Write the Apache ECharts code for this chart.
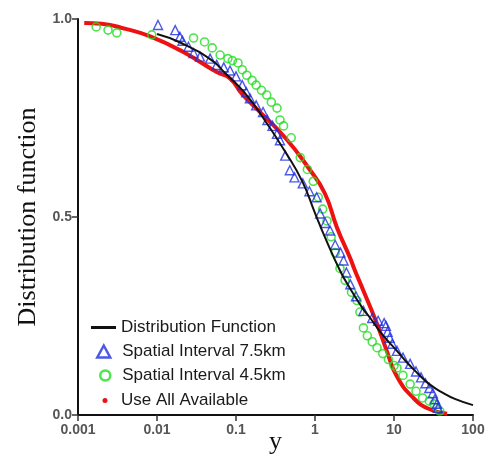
<!DOCTYPE html>
<html>
<head>
<meta charset="utf-8">
<script src="https://cdn.jsdelivr.net/npm/echarts@6/dist/echarts.min.js"></script>
<style>
  html, body { margin: 0; padding: 0; background: #fff; }
  #chart { width: 489px; height: 457px; }
</style>
</head>
<body>
<div id="chart"></div>
<script>
// tick labels
const xTicks = [0.001, 0.01, 0.1, 1, 10, 100];
const yTicks = [0.0, 0.5, 1.0];

// black curve - distribution function
const fitX = [0.01, 0.02, 0.05, 0.073, 0.13, 0.23, 0.42, 0.69, 1.0, 1.33, 2.07, 2.77, 4, 5, 7, 10.9, 15, 20, 28, 40, 60, 100];
const fitY = [0.962, 0.94, 0.895, 0.863, 0.813, 0.745, 0.665, 0.59, 0.51, 0.45, 0.365, 0.32, 0.27, 0.245, 0.205, 0.162, 0.13, 0.105, 0.078, 0.058, 0.04, 0.025];

// blue triangles - spatial interval 7.5km
const blueX = [0.0103, 0.017, 0.0195, 0.021, 0.025, 0.029, 0.035, 0.047, 0.057, 0.07, 0.084, 0.1, 0.12, 0.135, 0.15, 0.18, 0.22, 0.25, 0.29, 0.33, 0.36, 0.42, 0.48, 0.55, 0.7, 0.85, 1.05, 1.16, 1.35, 1.55, 1.8, 2.1, 2.3, 2.5, 2.8, 3.3, 4.1, 5.3, 6.3, 7.5, 7.9, 8.3, 8.8, 9.5, 10.9, 13, 16, 19, 22, 25, 28, 31, 33, 35, 36];
const blueY = [0.985, 0.972, 0.955, 0.945, 0.93, 0.914, 0.905, 0.9, 0.884, 0.878, 0.87, 0.855, 0.833, 0.815, 0.8, 0.782, 0.765, 0.745, 0.73, 0.71, 0.694, 0.655, 0.618, 0.6, 0.585, 0.565, 0.55, 0.509, 0.485, 0.466, 0.43, 0.41, 0.39, 0.36, 0.33, 0.3, 0.263, 0.245, 0.238, 0.232, 0.225, 0.21, 0.195, 0.18, 0.162, 0.145, 0.129, 0.11, 0.095, 0.08, 0.068, 0.055, 0.04, 0.028, 0.018];

// green circles - spatial interval 4.5km
const greenX = [0.0017, 0.0024, 0.0031, 0.0086, 0.029, 0.04, 0.05, 0.063, 0.079, 0.09, 0.106, 0.12, 0.137, 0.16, 0.18, 0.21, 0.245, 0.28, 0.33, 0.36, 0.4, 0.5, 0.65, 0.8, 0.95, 1.1, 1.25, 1.42, 1.6, 1.8, 2.07, 2.4, 2.9, 3.4, 3.7, 4.1, 4.6, 5.3, 6.1, 7.2, 8.5, 10, 10.9, 13, 16, 19, 23, 28, 32, 35, 38];
const greenY = [0.98, 0.972, 0.965, 0.96, 0.952, 0.942, 0.927, 0.909, 0.9, 0.895, 0.889, 0.872, 0.858, 0.845, 0.833, 0.82, 0.808, 0.79, 0.775, 0.745, 0.73, 0.7, 0.65, 0.62, 0.59, 0.55, 0.52, 0.49, 0.45, 0.41, 0.37, 0.34, 0.31, 0.289, 0.26, 0.22, 0.2, 0.185, 0.17, 0.155, 0.14, 0.125, 0.119, 0.1, 0.078, 0.06, 0.043, 0.035, 0.028, 0.018, 0.01];

// red dots - use all available
const redX = [0.0012, 0.002, 0.004, 0.0082, 0.021, 0.057, 0.084, 0.12, 0.19, 0.42, 0.82, 1.33, 1.9, 2.8, 3.2, 4.1, 6.1, 8.1, 10.9, 17.6, 28, 47];
const redY = [0.99, 0.988, 0.975, 0.956, 0.918, 0.866, 0.85, 0.81, 0.77, 0.70, 0.625, 0.56, 0.473, 0.395, 0.365, 0.314, 0.23, 0.162, 0.097, 0.043, 0.015, 0.003];

const names = ["Distribution Function", "Spatial Interval 7.5km", "Spatial Interval 4.5km", "Use All Available"];

function zip(xs, ys) {
  return xs.map((x, i) => [x, ys[i]]);
}

let myChart = echarts.init(document.getElementById("chart"));

function legendAt(top, left, w, h, pad, item) {
  return {
    top: top,
    left: left,
    itemWidth: w,
    itemHeight: h,
    selectedMode: false,
    textStyle: {
      fontFamily: "Liberation Sans, Arial",
      fontSize: 17,
      color: "#1a1a1a",
      padding: [0, 0, 0, pad]
    },
    data: [item]
  };
}

let option = {
  animation: false,
  grid: { left: 78, right: 16, top: 19, bottom: 42, outerBoundsMode: "none", containLabel: false },
  legend: [
    legendAt(314, 86, 25, 3, 0, { name: names[0], icon: "rect" }),
    legendAt(338, 91, 13, 12, 7, { name: names[1], icon: "triangle", itemStyle: { color: "transparent", borderColor: "#1f2fe0", borderWidth: 2.5 } }),
    legendAt(362, 94, 10, 10, 7, { name: names[2], icon: "circle", itemStyle: { color: "transparent", borderColor: "#22dd22", borderWidth: 2.5 } }),
    legendAt(387, 97.5, 5, 5, 8.5, { name: names[3], icon: "circle", itemStyle: { color: "#ee1111" } })
  ],
  xAxis: {
    type: "log",
    logBase: 10,
    min: 0.001,
    max: 100,
    name: "y",
    nameLocation: "middle",
    nameGap: 14,
    nameMoveOverlap: false,
    nameTextStyle: { fontFamily: "Liberation Serif, Times New Roman", fontSize: 26, color: "#111" },
    splitLine: { show: false },
    axisLine: { lineStyle: { color: "#111", width: 2 } },
    axisTick: { length: 6, lineStyle: { color: "#333", width: 1.5 } },
    minorTick: { show: false },
    axisLabel: {
      margin: 8,
      fontFamily: "Liberation Sans, Arial",
      fontSize: 14,
      fontWeight: "bold",
      color: "#555",
      formatter: v => {
        const t = xTicks.find(k => Math.abs(k - v) / k < 1e-6);
        return t === undefined ? "" : String(t);
      }
    }
  },
  yAxis: {
    type: "value",
    min: 0,
    max: 1,
    interval: 0.5,
    name: "Distribution function",
    nameLocation: "middle",
    nameGap: 37,
    nameMoveOverlap: false,
    nameTextStyle: { fontFamily: "Liberation Serif, Times New Roman", fontSize: 26, color: "#111" },
    splitLine: { show: false },
    axisLine: { show: true, lineStyle: { color: "#111", width: 2 } },
    axisTick: { show: true, length: 6, lineStyle: { color: "#333", width: 1.5 } },
    axisLabel: {
      margin: 6,
      fontFamily: "Liberation Sans, Arial",
      fontSize: 14,
      fontWeight: "bold",
      color: "#555",
      formatter: v => yTicks.includes(v) ? v.toFixed(1) : ""
    }
  },
  series: [
    {
      name: names[3],
      type: "line",
      data: zip(redX, redY),
      smooth: true,
      showSymbol: false,
      symbol: "none",
      color: "#ee1111",
      lineStyle: { color: "#ee1111", width: 4 },
      z: 2
    },
    {
      name: names[2],
      type: "scatter",
      data: zip(greenX, greenY),
      symbol: "circle",
      symbolSize: 8,
      itemStyle: { color: "transparent", borderColor: "#22dd22", borderWidth: 1.6 },
      z: 3
    },
    {
      name: names[1],
      type: "scatter",
      data: zip(blueX, blueY),
      symbol: "triangle",
      symbolSize: 9,
      itemStyle: { color: "transparent", borderColor: "#1f2fe0", borderWidth: 1.4 },
      z: 4
    },
    {
      name: names[0],
      type: "line",
      data: zip(fitX, fitY),
      smooth: true,
      showSymbol: false,
      symbol: "none",
      color: "#111",
      lineStyle: { color: "#111", width: 2 },
      z: 5
    }
  ]
};
myChart.setOption(option);
</script>
</body>
</html>
